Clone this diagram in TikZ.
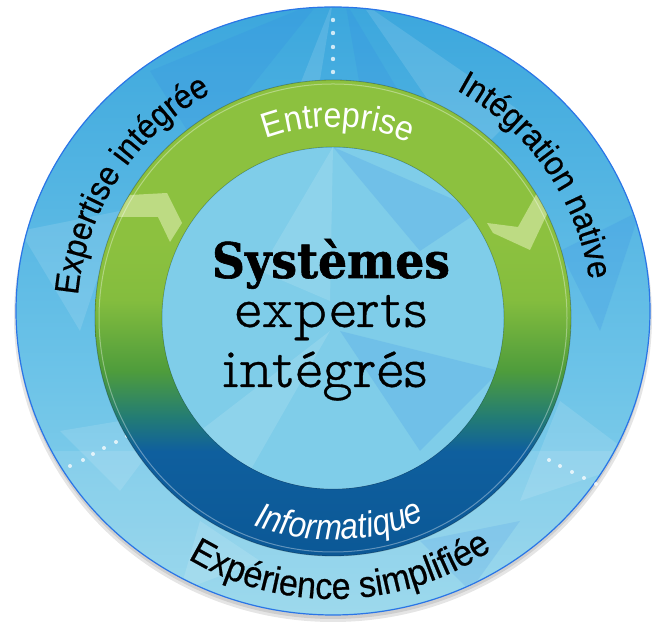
\documentclass[tikz,border=0pt]{standalone}
\usepackage{fontspec}
\setmainfont{Liberation Sans}
\newfontfamily\labelfont{Liberation Sans}[FakeStretch=0.92]
\newfontfamily\outerfont{Liberation Sans}[FakeStretch=0.92, FakeBold=0.5]
\newfontfamily\itfont{Liberation Sans Italic}[FakeStretch=0.88]
\newfontfamily\slabheavy{DejaVu Serif Bold}[FakeBold=1.2, FakeStretch=0.93]
\newfontfamily\slablight{lmmonoproplt10-regular.otf}[FakeBold=0.6]
\usetikzlibrary{decorations.text}
\definecolor{ringgreen}{HTML}{8CC13F}
\definecolor{ringgreenb}{HTML}{84BD3E}
\definecolor{ringdkgreen}{HTML}{4E9C3C}
\definecolor{ringteal}{HTML}{237C74}
\definecolor{ringblue}{HTML}{0F5F9E}
\definecolor{ringbluedk}{HTML}{0B5896}
\definecolor{discTop}{HTML}{3CA7DD}
\definecolor{discMid}{HTML}{6CC3E8}
\definecolor{discBot}{HTML}{92D5EA}
\definecolor{innerDisc}{HTML}{7FCDE9}
\definecolor{chev}{HTML}{C6E08F}
\pgfdeclareverticalshading{ringshade}{100bp}{color(0bp)=(ringbluedk); color(25bp)=(ringbluedk); color(36bp)=(ringblue); color(39.6bp)=(ringteal); color(44.4bp)=(ringdkgreen); color(51.9bp)=(ringgreenb); color(58bp)=(ringgreen); color(100bp)=(ringgreen)}
\pgfdeclareverticalshading{discshade}{100bp}{color(0bp)=(discBot); color(25bp)=(discBot); color(45bp)=(discMid); color(75bp)=(discTop); color(100bp)=(discTop)}
\tikzset{
  curvedtext/.style={decorate, decoration={text along path, text align=center, text={#1}}},
  dotmark/.style={fill=white, fill opacity=0.75, draw=none},
  facet/.style={fill=white, fill opacity=0.12, draw=none},
  darkfacet/.style={fill=discTop!80!blue, fill opacity=0.18, draw=none}
}
\begin{document}
\begin{tikzpicture}[x=1pt,y=1pt]
\useasboundingbox (0,0) rectangle (662,631);
\coordinate (C) at (333,313);
\coordinate (D) at (333,320);
% shadow
\fill[black, opacity=0.10] (333,314) ellipse[x radius=319, y radius=305];
\fill[black, opacity=0.10] (333,316) ellipse[x radius=317, y radius=304];
% outer disc
\path[shading=discshade, draw=discTop!70!blue, line width=1.2pt] (D) ellipse[x radius=317, y radius=304];
\begin{scope}
  \clip (D) ellipse[x radius=316, y radius=303];
  \fill[facet] (333,630) -- (250,420) -- (300,430) -- cycle;
  \fill[darkfacet] (345,630) -- (380,430) -- (440,470) -- cycle;
  \fill[facet] (360,630) -- (470,470) -- (520,520) -- cycle;
  \fill[darkfacet] (320,630) -- (150,560) -- (200,480) -- cycle;
  \fill[facet] (20,400) -- (120,420) -- (80,300) -- cycle;
  \fill[darkfacet] (640,420) -- (560,380) -- (600,300) -- cycle;
  \fill[facet] (120,140) -- (60,200) -- (180,220) -- cycle;
  \fill[facet] (520,130) -- (640,170) -- (560,230) -- cycle;
  \fill[facet] (180,40) -- (260,70) -- (200,110) -- cycle;
  \fill[darkfacet] (470,40) -- (420,90) -- (520,110) -- cycle;
  \fill[white, opacity=0.10] (0,0) rectangle (662,180);
\end{scope}
% decorative dots
\foreach \yy in {559,572,584,598,611} \fill[dotmark] (333,\yy) circle[radius=2.2];
\foreach \pp in {(83,171),(93,177),(104,183),(116,189),(127,195),(70,165)} \fill[dotmark] \pp circle[radius=2];
\foreach \pp in {(549,171),(560,165),(572,159),(584,153),(596,147)} \fill[dotmark] \pp circle[radius=2];
% ring
\path[shading=ringshade, even odd rule] (C) circle[radius=238] (C) circle[radius=171];
\begin{scope}[even odd rule]
  \clip (C) circle[radius=238] (C) circle[radius=171];
  \fill[chev, opacity=0.85] (115,414) -- (130,436) -- (167,438) -- (182,408) -- (170,389) -- (158,414) -- cycle;
  \fill[chev, opacity=0.85] (487,408) -- (518,404) -- (537,438) -- (548,419) -- (530,381) -- (493,398) -- cycle;
\end{scope}
\draw[white, opacity=0.35, line width=1pt] (C) circle[radius=234];
\draw[black, opacity=0.25, line width=0.8pt] (C) circle[radius=238];
\draw[black, opacity=0.20, line width=0.8pt] (C) circle[radius=171];
% inner disc
\fill[innerDisc] (C) circle[radius=170.5];
\begin{scope}
  \clip (C) circle[radius=170.5];
  \fill[facet] (333,484) -- (260,360) -- (330,330) -- cycle;
  \fill[darkfacet] (333,484) -- (420,380) -- (480,420) -- cycle;
  \fill[facet] (200,200) -- (330,300) -- (250,160) -- cycle;
  \fill[darkfacet] (420,180) -- (500,260) -- (340,300) -- cycle;
\end{scope}
% ring labels
\path[curvedtext={|\color{white}\labelfont\fontsize{35}{35}\selectfont|Entreprise}]
  (C) ++(128.5:191) arc[start angle=128.5, end angle=48.5, radius=191];
\path[curvedtext={|\color{white}\itfont\fontsize{36}{36}\selectfont|Informatique}]
  (C) ++(231.8:222) arc[start angle=231.8, end angle=311.8, radius=222];
% outer labels
\path[curvedtext={|\outerfont\fontsize{34}{34}\selectfont|Expertise intégrée}]
  (C) ++(181.7:256) arc[start angle=181.7, end angle=111.7, radius=256];
\path[curvedtext={|\outerfont\fontsize{34}{34}\selectfont|Intégration native}]
  (C) ++(75:259) arc[start angle=75, end angle=-5, radius=259];
\path[curvedtext={|\outerfont\fontsize{37}{37}\selectfont|Expérience simplifiée}]
  (C) ++(226.7:281) arc[start angle=226.7, end angle=316.7, radius=281];
% centre title
\node[anchor=base, inner sep=0pt] (t1) at (331,353) {\slabheavy\fontsize{49}{49}\selectfont Systèmes};
\node[anchor=base, inner sep=0pt] (t2) at (331,304) {\slablight\fontsize{58}{58}\selectfont experts};
\node[anchor=base, inner sep=0pt] (t3) at (325,244) {\slablight\fontsize{58}{58}\selectfont intégrés};
\end{tikzpicture}
\end{document}
